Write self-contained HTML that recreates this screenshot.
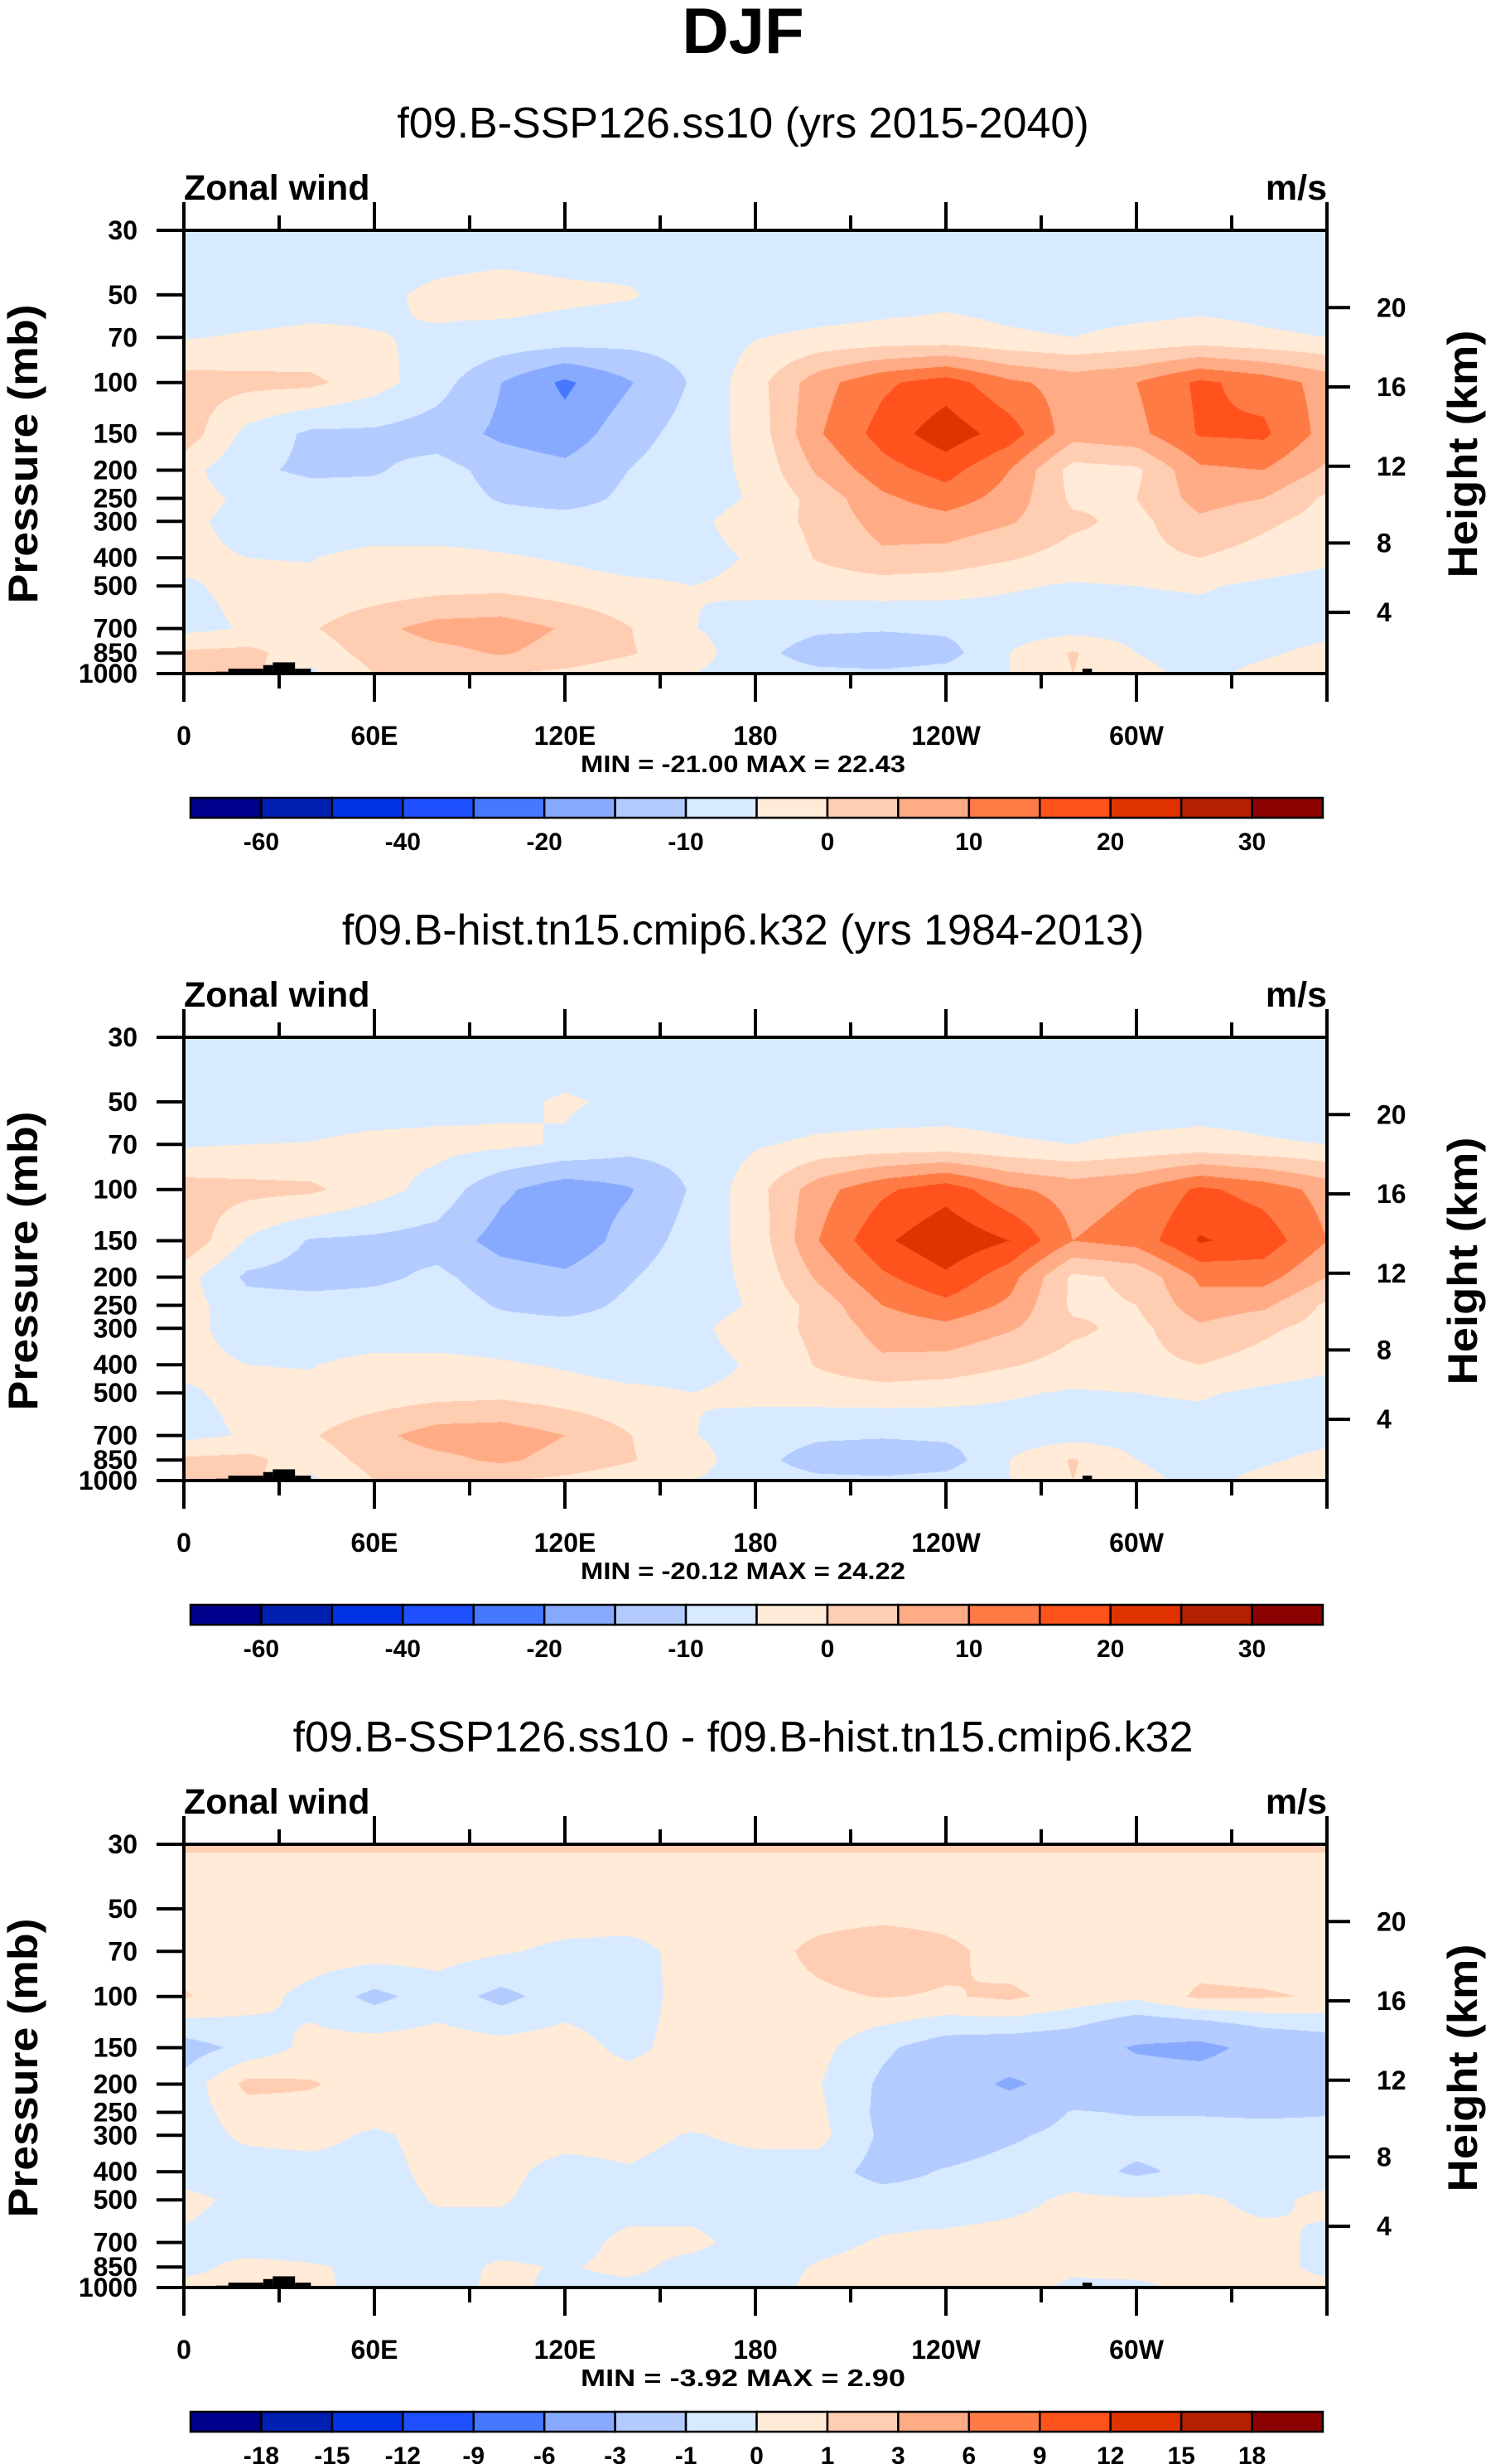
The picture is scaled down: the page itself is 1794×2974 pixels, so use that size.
<!DOCTYPE html>
<html><head><meta charset="utf-8">
<style>
html,body{margin:0;padding:0;background:#fff;}
#wrap{position:relative;width:1794px;height:2974px;overflow:hidden;background:#fff;}
canvas{position:absolute;}
svg{position:absolute;left:0;top:0;}
text{font-family:"Liberation Sans",sans-serif;fill:#000;}
</style></head>
<body>
<div id="wrap">
<canvas id="c0" width="1380" height="535" style="left:222px;top:278px"></canvas>
<canvas id="c1" width="1380" height="535" style="left:222px;top:1252px"></canvas>
<canvas id="c2" width="1380" height="535" style="left:222px;top:2226px"></canvas>
<svg id="s" width="1794" height="2974">
<text x="897" y="64" text-anchor="middle" font-size="78" font-weight="bold">DJF</text>
</svg>
</div>
<script>
// ---- data ----
const levelsP = [30,50,70,100,150,200,250,300,400,500,700,850,1000];
const lons = [0,20,40,60,80,100,120,140,160,180,200,220,240,260,280,300,320,340,360];
const u1 = [
[-8,-8,-8,-8,-8,-8,-8,-8,-8,-8,-8,-8,-8,-8,-8,-8,-8,-8,-8],
[-8,-8,-7,-6,-4,-3,-4,-4.5,-7,-8,-8,-7,-6,-6.5,-7,-7,-6.5,-6.5,-7],
[-5.3,-4.5,-4,-4.8,-5.5,-6.5,-7,-8,-8,-5.2,-4,-3.5,-3.5,-4.5,-5,-4,-3.5,-4.5,-5],
[2,1.5,1.2,-3,-8,-15,-21,-15.5,-9.5,-2,8,14,17.5,11,8,10,16,13,8],
[3,-6.5,-11,-11,-12.5,-16,-18,-12,-8,-3,9.5,17,23,17.5,7,8.5,15.5,16,8],
[-3,-9,-11,-10.5,-8,-12,-13.5,-10,-7,-4,6,13,17,10,-2,-1,9,10,4],
[-3,-6,-7.5,-8,-7.5,-10.5,-12,-9,-7,-4.5,2,9,12.5,8,-1,0,7,5,-1],
[-4,-6.5,-8,-8,-8,-8,-8,-8,-6,-3,1.5,7,8,5.5,1,-1.5,4,1,-2],
[-4,-5,-5.2,-3.5,-3.5,-4.5,-5.5,-7,-6.5,-4.5,0.5,4,3,0.5,-2,-1.5,0,-2,-4],
[-5.5,-4,-4,-3,-2,-1.5,-3,-4,-5,-4,-3,-2.5,-3,-4.5,-5.5,-5,-4.5,-6,-7],
[-6.5,-4.5,-0.5,3.5,7,7.5,4.5,0.3,-4.8,-7,-9,-9.5,-9,-7.5,-7,-7,-7,-7,-6],
[1,1.5,-3,2,3.5,5.5,3,0.5,-3,-8,-13,-13.5,-12,-5,0.5,-5,-6.5,-5.5,-4],
[1,2,-6,0,1,0,-1,-3,-5,-7,-8.5,-9,-8,-5,0,-4,-6,-4,-2]
];
const u2 = [
[-8,-8,-8,-8,-8,-8,-8,-8,-8,-8,-8,-8,-8,-8,-8,-8,-8,-8,-8],
[-8,-8,-8,-8,-7,-6,-4.5,-5.8,-8,-8,-8,-7.5,-7,-7,-7.5,-7.5,-7,-7,-8],
[-5.5,-5,-4.8,-3.5,-3.5,-4,-5.5,-8,-8,-5.5,-4,-3.5,-3.5,-4.5,-5,-4,-3.5,-4.5,-5],
[2,1.5,1,-3,-7,-14,-18,-15.5,-9.5,-2,8,14,18,11,8,10,16,13,8],
[4,-5.5,-10.5,-11,-12,-17,-18.5,-13,-8,-3,10,19,24,20,10,12,20.5,18,10],
[-3,-11,-12,-11,-9,-12.5,-14,-10.5,-7,-4,6,14,19,12,-1,1,11,12,5],
[-3,-8,-8,-8,-7.5,-10.5,-12,-9,-7,-4.5,2,10,13.5,9,-1,0,8,6,-1],
[-4,-6.5,-8,-8,-8,-8,-8,-8,-6,-3,1.5,7,8.5,5.5,1,-1.5,4,1,-2],
[-4,-5,-5.2,-3.5,-3.5,-4.5,-5.5,-7,-6.5,-4.5,0.5,4,3,0.5,-2,-1.5,0,-2,-4],
[-5.5,-4,-4,-3,-2,-1.5,-3,-4,-5,-4,-3,-2.5,-3,-4.5,-5.5,-5,-4.5,-6,-7],
[-6.5,-4.5,-0.5,3.5,7.5,8,5,0.3,-4.8,-7,-9,-9.5,-9,-7.5,-7,-7,-7,-7,-6],
[1,1.5,-3,2,3.5,6,3,0.5,-3,-8,-13,-13.5,-12.5,-5,0.5,-5,-6.5,-5.5,-4],
[1,2,-6,0,1,0,-1,-3,-5,-7,-8.5,-9,-8,-5,0,-4,-6,-4,-2]
];
const d3 = [
[1.07,1.07,1.07,1.07,1.07,1.07,1.07,1.07,1.07,1.07,1.07,1.07,1.07,1.07,1.07,1.07,1.07,1.07,1.07],
[0.5,0.5,0.5,0.5,0.5,0.5,0.5,0.5,0.5,0.5,0.5,0.5,0.5,0.5,0.5,0.5,0.5,0.5,0.5],
[0.5,0.5,0.5,0.5,0.4,0.1,-0.2,-0.3,0.3,0.5,1.3,1.8,1.3,0.5,0.5,0.5,0.5,0.5,0.5],
[1.1,0.4,-0.3,-1.3,-0.5,-1.3,-0.5,-0.6,0.5,0.6,0.8,1.05,0.9,1.2,0.6,0.2,1.2,1.1,0.9],
[-1.5,-0.7,0.3,0.5,0.5,0.4,0.5,-0.3,0.5,0.6,0.3,-0.8,-1.6,-1.8,-2,-3.2,-3.6,-2.3,-1.8],
[-0.7,1.3,1.1,0.5,0.5,0.5,0.5,0.5,0.5,0.5,0.05,-1.2,-2,-3.3,-2.2,-2,-2,-1.8,-1.5],
[-0.5,0.5,0.6,0.5,0.5,0.4,0.5,0.5,0.5,0.5,0.2,-1.3,-1.8,-2,-0.9,-1.1,-1.1,-1.2,-1.1],
[-0.5,0.2,0.4,-0.2,0.4,0.5,0.4,0.4,-0.1,0.3,0.3,-1.2,-1.8,-1.2,-0.6,-0.5,-0.5,-0.5,-0.5],
[-0.5,-0.5,-0.5,-0.4,0.3,0.3,-0.4,-0.1,-0.5,-0.5,-0.5,-1.4,-0.9,-0.5,-0.5,-1.2,-0.7,-0.5,-0.5],
[0.3,-0.3,-0.5,-0.5,0.1,0.1,-0.5,-0.5,-0.5,-0.5,-0.5,-0.5,-0.6,-0.3,0.2,0.1,0.2,-0.3,0.3],
[-0.2,-0.5,-0.5,-0.5,-0.5,-0.5,-0.5,0.3,0.3,-0.5,-0.3,0.1,0.3,0.4,0.4,0.4,0.4,0.4,-0.3],
[-0.3,0.3,0.1,-0.2,-0.5,0.2,-0.1,0.3,-0.4,-0.5,0.1,0.4,0.5,0.5,0.2,0.5,0.5,0.4,-0.3],
[0.3,0.3,0.2,-0.3,-0.5,0.3,-0.3,-0.3,-0.5,-0.5,0.3,0.3,0.4,0.4,-0.2,-0.3,0.4,0.4,0.3]
];
const levelsAbs = [-60,-50,-40,-30,-20,-15,-10,-5,0,5,10,15,20,25,30];
const levelsDiff = [-18,-15,-12,-9,-6,-3,-1,0,1,3,6,9,12,15,18];
const cbLabelsAbs = ['-60','-40','-20','-10','0','10','20','30'];
const cbLabelsDiff = ['-18','-15','-12','-9','-6','-3','-1','0','1','3','6','9','12','15','18'];
const pTickLabels = [30,50,70,100,150,200,250,300,400,500,700,850,1000];
const hTickLabels = [20,16,12,8,4];
const hTickP = [55.3,103.5,194,356,616];
const lonTicks = [0,60,120,180,240,300];
const lonTickLabels = ['0','60E','120E','180','120W','60W'];
const topoLon0 = [10,14,25,28,35,100,112,124,281,283,286];
const topoLon1 = [14,25,28,35,40,102,116,155,283,286,300];
const topoP = [985,962,935,915,962,988,992,993,990,962,990];
const subtitles = ['f09.B-SSP126.ss10 (yrs 2015-2040)','f09.B-hist.tn15.cmip6.k32 (yrs 1984-2013)','f09.B-SSP126.ss10 - f09.B-hist.tn15.cmip6.k32'];
const minVals = ['-21.00','-20.12','-3.92'];
const maxVals = ['22.43','24.22','2.90'];
const colors = ['#00008c','#0020b4','#0032e6','#1e50ff','#4678ff','#87aaff','#b4cbff','#d7eaff','#ffebd8','#ffcdb2','#ffab85','#ff7b46','#ff521c','#e13300','#b42000','#8b0000'];

// ---- geometry ----
const X0=222, W=1380, H=535, Y0s=[278,1252,2226];
const LN=Math.log(1000/30);
function yOf(p,y0){return y0+H*Math.log(p/30)/LN;}
function xOf(lon){return X0+W*lon/360;}
function hex(c){return [parseInt(c.substr(1,2),16),parseInt(c.substr(3,2),16),parseInt(c.substr(5,2),16)];}
const rgb=colors.map(hex);

function drawField(cid,data,levels){
  const cv=document.getElementById(cid),ctx=cv.getContext('2d');
  const img=ctx.createImageData(W,H);
  const lnL=levelsP.map(Math.log);
  for(let j=0;j<H;j++){
    const p=30*Math.exp((j+0.5)/H*LN), lp=Math.log(p);
    let k=0; while(k<levelsP.length-2 && lp>lnL[k+1]) k++;
    const t=Math.min(1,Math.max(0,(lp-lnL[k])/(lnL[k+1]-lnL[k])));
    for(let i=0;i<W;i++){
      const lon=(i+0.5)/W*360, f=lon/20; let a=Math.min(Math.floor(f),lons.length-2); const s=f-a;
      const v=(1-t)*((1-s)*data[k][a]+s*data[k][a+1])+t*((1-s)*data[k+1][a]+s*data[k+1][a+1]);
      let c=0; for(const L of levels){ if(v>=L) c++; }
      const q=(j*W+i)*4, col=rgb[c];
      img.data[q]=col[0];img.data[q+1]=col[1];img.data[q+2]=col[2];img.data[q+3]=255;
    }
  }
  ctx.putImageData(img,0,0);
}
drawField('c0',u1,levelsAbs);
drawField('c1',u2,levelsAbs);
drawField('c2',d3,levelsDiff);

const NS='http://www.w3.org/2000/svg', svg=document.getElementById('s');
function mk(tag,attrs,parent){const e=document.createElementNS(NS,tag);for(const k in attrs)e.setAttribute(k,attrs[k]);(parent||svg).appendChild(e);return e;}

for(let pi=0;pi<3;pi++){
  const y0=Y0s[pi], yb=y0+H;
  const g=mk('g',{});
  
  
  let t=mk('text',{x:897,y:y0-112,'text-anchor':'middle','font-size':52},g);
  t.textContent=subtitles[pi];
  
  
  t=mk('text',{x:222,y:y0-37,'font-size':43,'font-weight':'bold'},g);
  t.textContent='Zonal wind';
  
  
  t=mk('text',{x:1602,y:y0-37,'font-size':43,'font-weight':'bold','text-anchor':'end'},g);
  t.textContent='m/s';
  
  
  for(let k=0;k<topoP.length;k++){
    const r=mk('rect',{x:xOf(topoLon0[k]),y:yOf(topoP[k],y0),width:xOf(topoLon1[k])-xOf(topoLon0[k]),height:yb-yOf(topoP[k],y0),fill:'#000'},g);
    
    
  }
  const fr=mk('rect',{x:X0,y:y0,width:W,height:H,fill:'none',stroke:'#000','stroke-width':4},g);
  
  
  for(const p of pTickLabels){
    const y=yOf(p,y0);
    const ln=mk('line',{x1:189,x2:X0,y1:y,y2:y,stroke:'#000','stroke-width':4},g);
    
    
    const tx=mk('text',{x:166,y:y+11,'font-size':32,'font-weight':'bold','text-anchor':'end'},g);
    tx.textContent=String(p);
    
    
  }
  for(let k=0;k<hTickLabels.length;k++){
    const y=yOf(hTickP[k],y0);
    const ln=mk('line',{x1:1602,x2:1630,y1:y,y2:y,stroke:'#000','stroke-width':4},g);
    
    
    const tx=mk('text',{x:1662,y:y+11,'font-size':32,'font-weight':'bold'},g);
    tx.textContent=String(hTickLabels[k]);
    
    
  }
  for(let lon=0;lon<=360;lon+=30){
    const x=xOf(lon), major=(lon%60===0);
    const l1=mk('line',{x1:x,x2:x,y1:y0,y2:y0-(major?34:18),stroke:'#000','stroke-width':4},g);
    
    
    const l2=mk('line',{x1:x,x2:x,y1:yb,y2:yb+(major?34:18),stroke:'#000','stroke-width':4},g);
    
    
  }
  for(let k=0;k<lonTicks.length;k++){
    const tx=mk('text',{x:xOf(lonTicks[k]),y:yb+86,'font-size':32,'font-weight':'bold','text-anchor':'middle'},g);
    tx.textContent=lonTickLabels[k];
    
    
  }
  t=mk('text',{x:897,y:yb+119,'font-size':29,'font-weight':'bold','text-anchor':'middle',textLength:392,lengthAdjust:'spacingAndGlyphs'},g);
  t.textContent='MIN = '+minVals[pi]+'  MAX =  '+maxVals[pi];
  
  
  t=mk('text',{x:0,y:0,'font-size':50,'font-weight':'bold','text-anchor':'middle',textLength:361,lengthAdjust:'spacingAndGlyphs',transform:'translate(45,'+(y0+270)+') rotate(-90)'},g);
  t.textContent='Pressure (mb)';
  
  
  t=mk('text',{x:0,y:0,'font-size':50,'font-weight':'bold','text-anchor':'middle',textLength:299,lengthAdjust:'spacingAndGlyphs',transform:'translate(1783,'+(y0+270)+') rotate(-90)'},g);
  t.textContent='Height (km)';
  
  
  const cbX=230, cbW=1367, cbY=yb+150, cbH=24, bw=cbW/16;
  for(let k=0;k<16;k++){
    const r=mk('rect',{x:cbX+k*bw,y:cbY,width:bw,height:cbH,fill:colors[k],stroke:'#000','stroke-width':2.5},g);
    
    
  }
  const labs = pi<2 ? cbLabelsAbs : cbLabelsDiff;
  for(let k=0;k<labs.length;k++){
    const bi = pi<2 ? 1+2*k : 1+k;
    const tx=mk('text',{x:cbX+bi*bw,y:cbY+63,'font-size':30,'font-weight':'bold','text-anchor':'middle'},g);
    tx.textContent=labs[k];
    
    
  }
}
</script>
</body></html>
